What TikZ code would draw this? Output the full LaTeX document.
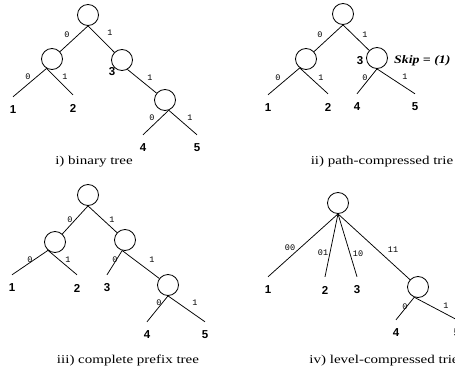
\documentclass[tikz,border=0pt]{standalone}
\usepackage{fontspec}
\newfontfamily\capfont[FakeStretch=1.25]{Liberation Serif}
\newfontfamily\skipfont[FakeStretch=1.2]{Liberation Serif}
\newfontfamily\leaffont{Liberation Sans}
\newfontfamily\bitfont{Liberation Mono}
\tikzset{
  knot/.style={circle, draw, line width=0.8pt, minimum size=21pt, inner sep=0pt},
  leaf/.style={inner sep=0pt, minimum height=26pt, font=\leaffont\bfseries\fontsize{11.5}{12}\selectfont},
  bit/.style={inner sep=0pt, font=\bitfont\fontsize{8.5}{9}\selectfont},
  edge/.style={line width=0.75pt},
  caption/.style={inner sep=0pt, font=\capfont\fontsize{12}{14}\selectfont},
}
\begin{document}
\begin{tikzpicture}[x=1pt, y=-1pt]
\useasboundingbox (0,0) rectangle (455,369);

% ---------- i) binary tree ----------
\node[knot] (r1) at (88,15) {};
\node[knot] (a1) at (52,59) {};
\node[knot] (b1) at (122,60) {};
\node[knot] (c1) at (165,100) {};
\node[leaf] (i1) at (13,110) {1};
\node[leaf] (i2) at (73,108) {2};
\node[leaf] (i3) at (112,72) {3};
\node[leaf] (i4) at (143,148) {4};
\node[leaf] (i5) at (197,148) {5};
\draw[edge] (r1.south) -- (a1);
\draw[edge] (r1.south) -- (b1);
\draw[edge] (a1.240) -- (i1.north);
\draw[edge] (a1.240) -- (i2.north);
\draw[edge] (b1.300) -- (c1);
\draw[edge] (c1.290) -- (i4.north);
\draw[edge] (c1.290) -- (i5.north);
\node[bit] (ib1) at (67,35) {0};
\node[bit] (ib2) at (110,33) {1};
\node[bit] (ib3) at (28,77) {0};
\node[bit] (ib4) at (65,77) {1};
\node[bit] (ib5) at (150,78) {1};
\node[bit] (ib6) at (152,118) {0};
\node[bit] (ib7) at (190,118) {1};
\node[caption] (capi) at (94,162) {i) binary tree};

% ---------- ii) path-compressed trie ----------
\node[knot] (r2) at (343,14) {};
\node[knot] (a2) at (306,59) {};
\node[knot] (b2) at (377,58) {};
\node[leaf] (p1) at (268,108) {1};
\node[leaf] (p2) at (328,107) {2};
\node[leaf] (p3) at (360,61) {3};
\node[leaf] (p4) at (357,107) {4};
\node[leaf] (p5) at (415,107) {5};
\node[inner sep=0pt, anchor=west, font=\skipfont\bfseries\itshape\fontsize{11.5}{13}\selectfont] (skip) at (394,61) {Skip = (1)};
\draw[edge] (r2.south) -- (a2);
\draw[edge] (r2.south) -- (b2);
\draw[edge] (a2.235) -- (p1.north);
\draw[edge] (a2.235) -- (p2.north);
\draw[edge] (b2.south) -- (p4.north);
\draw[edge] (b2.south) -- (p5.north);
\node[bit] (pb1) at (320,35) {0};
\node[bit] (pb2) at (365,35) {1};
\node[bit] (pb3) at (278,78) {0};
\node[bit] (pb4) at (321,78) {1};
\node[bit] (pb5) at (365,78) {0};
\node[bit] (pb6) at (405,77) {1};
\node[caption] (capii) at (382,162) {ii) path-compressed trie};

% ---------- iii) complete prefix tree ----------
\node[knot] (r3) at (88,195) {};
\node[knot] (a3) at (55,242) {};
\node[knot] (b3) at (125,240) {};
\node[knot] (c3) at (168,285) {};
\node[leaf] (t1) at (12,288) {1};
\node[leaf] (t2) at (77,288) {2};
\node[leaf] (t3) at (107,288) {3};
\node[leaf] (t4) at (147,335) {4};
\node[leaf] (t5) at (205,335) {5};
\draw[edge] (r3.south) -- (a3);
\draw[edge] (r3.south) -- (b3);
\draw[edge] (a3.230) -- (t1.north);
\draw[edge] (a3.230) -- (t2.north);
\draw[edge] (b3.255) -- (t3.north);
\draw[edge] (b3.255) -- (c3);
\draw[edge] (c3.south) -- (t4.north);
\draw[edge] (c3.south) -- (t5.north);
\node[bit] (tb1) at (70,220) {0};
\node[bit] (tb2) at (112,220) {1};
\node[bit] (tb3) at (30,260) {0};
\node[bit] (tb4) at (68,260) {1};
\node[bit] (tb5) at (115,260) {0};
\node[bit] (tb6) at (152,260) {1};
\node[bit] (tb7) at (159,303) {0};
\node[bit] (tb8) at (195,303) {1};
\node[caption] (capiii) at (128,361) {iii) complete prefix tree};

% ---------- iv) level-compressed trie ----------
\node[knot] (r4) at (338,203) {};
\node[knot] (c4) at (418,287) {};
\node[leaf] (v1) at (268,290) {1};
\node[leaf] (v2) at (325,290) {2};
\node[leaf] (v3) at (357,290) {3};
\node[leaf] (v4) at (396,333) {4};
\node[leaf] (v5) at (457,333) {5};
\draw[edge] (r4.south) -- (v1.north);
\draw[edge] (r4.south) -- (v2.north);
\draw[edge] (r4.south) -- (v3.north);
\draw[edge] (r4.south) -- (c4);
\draw[edge] (c4.250) -- (v4.north);
\draw[edge] (c4.250) -- (v5.north);
\node[bit] (vb1) at (290,248) {00};
\node[bit] (vb2) at (323,253) {01};
\node[bit] (vb3) at (358,254) {10};
\node[bit] (vb4) at (393,250) {11};
\node[bit] (vb5) at (405,307) {0};
\node[bit] (vb6) at (446,306) {1};
\node[caption] (capiv) at (384,361) {iv) level-compressed trie};
\end{tikzpicture}
\end{document}
